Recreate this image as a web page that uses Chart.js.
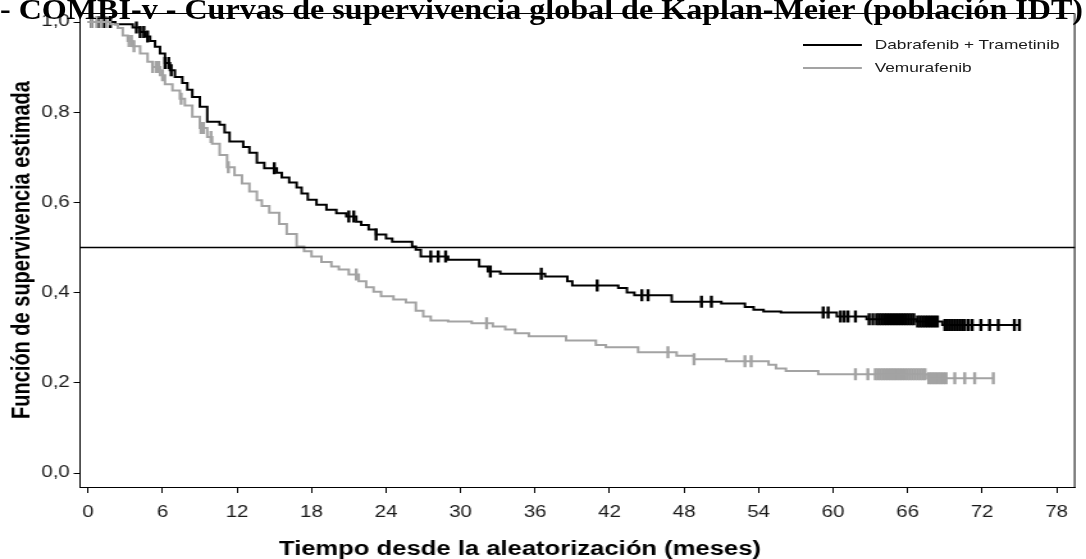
<!DOCTYPE html>
<html>
<head>
<meta charset="utf-8">
<script src="https://cdn.jsdelivr.net/npm/chart.js@4/dist/chart.umd.min.js"></script>
<style>
  html, body { margin: 0; padding: 0; background: #fff; }
  #wrap { position: relative; width: 1086px; height: 559px; overflow: hidden; }
  #chart { position: absolute; left: 0; top: 0; }
  #title {
    position: absolute; left: 0; top: -6px; white-space: nowrap;
    font-family: "Liberation Serif", "Times New Roman", serif; font-weight: bold;
    font-size: 30px; line-height: 30px; color: #000; transform-origin: 0 0; z-index: 2;
  }
  #legend {
    position: absolute; left: 803px; top: 34px; font-family: "Liberation Sans", Arial, sans-serif;
    font-size: 13.5px; color: #1a1a1a; z-index: 2; transform: scaleX(1.28); transform-origin: 0 0;
  }
  .item { position: relative; height: 23px; line-height: 22px; padding-left: 56px; white-space: nowrap; }
  .item span { position: absolute; left: 0; top: 10px; width: 46px; height: 0; }
</style>
</head>
<body>
<div id="wrap">
  <div id="title">- COMBI-v - Curvas de supervivencia global de Kaplan-Meier (población IDT)</div>
  <div id="legend">
    <div class="item"><span style="border-top: 2.5px solid #000"></span>Dabrafenib + Trametinib</div>
    <div class="item"><span style="border-top: 2.5px solid #a3a3a3"></span>Vemurafenib</div>
  </div>
  <!-- the source picture is stretched sideways, so the canvas is drawn narrow and widened -->
  <canvas id="chart" width="848" height="559" style="width: 1086px; height: 559px;"></canvas>
</div>
<script>
// Kaplan-Meier steps: time (months) and estimated survival after each step
const dtTimes = [0, 2.2, 3.6, 4.2, 4.6, 5.0, 5.4, 5.8, 6.2, 6.6, 7.0, 7.6, 8.0, 8.4, 9.0, 9.6, 10.6, 11.0, 11.4, 12.5, 13.0, 13.6, 14.2, 15.2, 15.6, 16.2, 16.8, 17.2, 17.7, 18.4, 19.2, 20.0, 20.8, 21.6, 22.0, 22.6, 23.2, 24.0, 24.5, 26.1, 26.4, 26.8, 29.0, 31.5, 32.2, 33.2, 36.8, 38.6, 39.0, 42.7, 43.4, 44.0, 47.0, 51.0, 52.9, 53.6, 54.4, 55.8, 60.3, 62.7, 66.7, 68.8, 75.0];
const dtSurv  = [1.0, 0.995, 0.988, 0.978, 0.968, 0.958, 0.945, 0.93, 0.909, 0.893, 0.878, 0.865, 0.85, 0.834, 0.812, 0.779, 0.772, 0.755, 0.735, 0.723, 0.71, 0.688, 0.676, 0.666, 0.655, 0.644, 0.633, 0.62, 0.606, 0.595, 0.584, 0.576, 0.569, 0.557, 0.55, 0.54, 0.529, 0.52, 0.513, 0.502, 0.495, 0.48, 0.473, 0.458, 0.447, 0.442, 0.436, 0.425, 0.416, 0.41, 0.4, 0.394, 0.38, 0.376, 0.368, 0.362, 0.358, 0.356, 0.347, 0.341, 0.336, 0.328, 0.328];
const dtCensored = [0.3, 0.8, 1.3, 1.8, 3.9, 4.2, 4.5, 4.8, 6.2, 6.5, 6.7, 15.0, 21.0, 21.4, 23.2, 27.6, 28.2, 28.8, 32.4, 36.5, 41.0, 44.6, 45.1, 49.4, 50.2, 59.2, 59.6, 60.6, 60.9, 61.2, 61.8, 62.9, 63.2, 63.5, 63.7, 63.9, 64.1, 64.3, 64.5, 64.7, 64.9, 65.1, 65.3, 65.5, 65.7, 65.9, 66.1, 66.3, 66.5, 66.8, 67.0, 67.2, 67.4, 67.6, 67.8, 68.0, 68.2, 68.4, 69.0, 69.2, 69.4, 69.6, 69.8, 70.0, 70.2, 70.4, 70.6, 70.9, 71.2, 71.9, 72.6, 73.3, 74.6, 75.0];

const vemTimes = [0, 1.8, 2.4, 2.8, 3.2, 3.6, 4.2, 4.8, 5.2, 5.8, 6.2, 6.8, 7.4, 7.8, 8.4, 9.0, 9.6, 10.0, 10.6, 11.2, 11.8, 12.4, 13.0, 13.6, 14.0, 14.6, 15.4, 16.0, 16.8, 17.4, 18.0, 18.8, 19.6, 20.2, 21.0, 21.8, 22.4, 23.0, 23.6, 24.6, 25.6, 26.4, 27.0, 27.6, 29.0, 30.9, 32.6, 33.6, 34.4, 35.5, 38.5, 40.9, 41.7, 44.3, 47.4, 48.8, 51.4, 54.8, 55.4, 56.2, 58.8, 67.6, 72.9];
const vemSurv  = [1.0, 0.995, 0.987, 0.97, 0.958, 0.946, 0.93, 0.912, 0.9, 0.882, 0.862, 0.848, 0.83, 0.815, 0.79, 0.765, 0.745, 0.73, 0.705, 0.678, 0.66, 0.642, 0.624, 0.605, 0.592, 0.577, 0.552, 0.53, 0.502, 0.492, 0.48, 0.468, 0.458, 0.451, 0.44, 0.425, 0.412, 0.402, 0.392, 0.385, 0.378, 0.36, 0.347, 0.338, 0.336, 0.332, 0.325, 0.318, 0.31, 0.303, 0.294, 0.284, 0.279, 0.268, 0.26, 0.252, 0.248, 0.24, 0.232, 0.226, 0.219, 0.21, 0.21];
const vemCensored = [0.3, 0.7, 1.1, 1.5, 3.3, 3.5, 3.7, 5.2, 5.5, 5.7, 6.0, 7.5, 9.1, 9.3, 9.9, 11.3, 21.6, 32.1, 46.7, 48.8, 52.9, 53.4, 61.8, 62.8, 63.4, 63.6, 63.8, 64.0, 64.2, 64.4, 64.6, 64.8, 65.0, 65.2, 65.4, 65.6, 65.8, 66.0, 66.2, 66.4, 66.6, 66.8, 67.0, 67.2, 67.4, 67.7, 67.9, 68.1, 68.3, 68.5, 68.7, 68.9, 69.1, 69.8, 70.6, 71.4, 72.9];

const xTickValues = [0, 6, 12, 18, 24, 30, 36, 42, 48, 54, 60, 66, 72, 78];
const yTickValues = [0, 0.2, 0.4, 0.6, 0.8, 1.0];
const medianLine = 0.5;
const xTitle = 'Tiempo desde la aleatorización (meses)';

const xMin = -0.64, xMax = 79.5, yMin = -0.031, yMax = 1.02;

function survAt(times, surv, t) {
  let s = surv[0];
  for (let i = 0; i < times.length; i++) {
    if (times[i] <= t) s = surv[i]; else break;
  }
  return s;
}

function steps(times, surv) {
  return times.map((t, i) => ({ x: t, y: surv[i] }));
}

function marks(cens, times, surv) {
  return cens.map(t => ({ x: t, y: survAt(times, surv, t) }));
}

// box round the plot area (top and right sides) and the x title, which sits left of centre
const boxPlugin = {
  id: 'box',
  afterDraw(chart) {
    const { ctx, chartArea: a } = chart;
    ctx.save();
    ctx.strokeStyle = '#000';
    ctx.lineWidth = 1;
    ctx.beginPath();
    ctx.moveTo(a.left, a.top + 0.5);
    ctx.lineTo(a.right - 0.5, a.top + 0.5);
    ctx.lineTo(a.right - 0.5, a.bottom);
    ctx.stroke();
    ctx.font = 'bold 20px "Liberation Sans", Arial, sans-serif';
    ctx.fillStyle = '#000';
    ctx.textAlign = 'center';
    ctx.textBaseline = 'middle';
    ctx.fillText(xTitle, 406, 549);
    ctx.restore();
  }
};

const black = '#000000';
const grey = '#a3a3a3';

Chart.defaults.font.family = '"Liberation Sans", Arial, sans-serif';
Chart.defaults.color = '#1a1a1a';

new Chart(document.getElementById('chart'), {
  type: 'line',
  data: {
    datasets: [
      {
        label: 'Mediana',
        data: [{ x: xMin, y: medianLine }, { x: xMax, y: medianLine }],
        borderColor: '#000', borderWidth: 1.5, pointRadius: 0
      },
      {
        label: 'Vemurafenib',
        data: steps(vemTimes, vemSurv),
        borderColor: grey, borderWidth: 2, stepped: true, pointRadius: 0
      },
      {
        label: 'Vemurafenib censura',
        type: 'scatter',
        data: marks(vemCensored, vemTimes, vemSurv),
        pointStyle: 'line', rotation: 90, pointRadius: 6,
        borderColor: grey, pointBorderWidth: 2.4, showLine: false
      },
      {
        label: 'Dabrafenib + Trametinib',
        data: steps(dtTimes, dtSurv),
        borderColor: black, borderWidth: 2, stepped: true, pointRadius: 0
      },
      {
        label: 'Dabrafenib + Trametinib censura',
        type: 'scatter',
        data: marks(dtCensored, dtTimes, dtSurv),
        pointStyle: 'line', rotation: 90, pointRadius: 6,
        borderColor: black, pointBorderWidth: 2.4, showLine: false
      }
    ]
  },
  options: {
    responsive: false,
    animation: false,
    layout: { padding: { left: 0, top: 13, right: 6, bottom: 0 } },
    plugins: { legend: { display: false }, tooltip: { enabled: false } },
    scales: {
      x: {
        type: 'linear', min: xMin, max: xMax,
        afterBuildTicks: s => { s.ticks = xTickValues.map(v => ({ value: v })); },
        afterFit: s => { s.height = 72; },
        grid: { drawOnChartArea: false, drawTicks: true, tickLength: 6, color: '#000' },
        border: { display: true, color: '#000', width: 1 },
        ticks: { font: { size: 16 }, padding: 10, maxRotation: 0, callback: v => String(v) },
        title: { display: false }
      },
      y: {
        type: 'linear', min: yMin, max: yMax,
        afterBuildTicks: s => { s.ticks = yTickValues.map(v => ({ value: v })); },
        afterFit: s => { s.width = 62.5; },
        grid: { drawOnChartArea: false, drawTicks: true, tickLength: 5, color: '#000' },
        border: { display: true, color: '#000', width: 1 },
        ticks: { font: { size: 16 }, padding: 3, callback: v => v.toFixed(1).replace('.', ',') },
        title: { display: true, text: 'Función de supervivencia estimada', font: { size: 20, weight: 'bold' }, color: '#000', padding: { top: 5, bottom: 0 } }
      }
    }
  },
  plugins: [boxPlugin]
});

// stretch the clipped heading to the page width, as in the source
const title = document.getElementById('title');
const w = title.getBoundingClientRect().width;
title.style.transform = 'scaleX(' + (1083 / w) + ')';
</script>
</body>
</html>
